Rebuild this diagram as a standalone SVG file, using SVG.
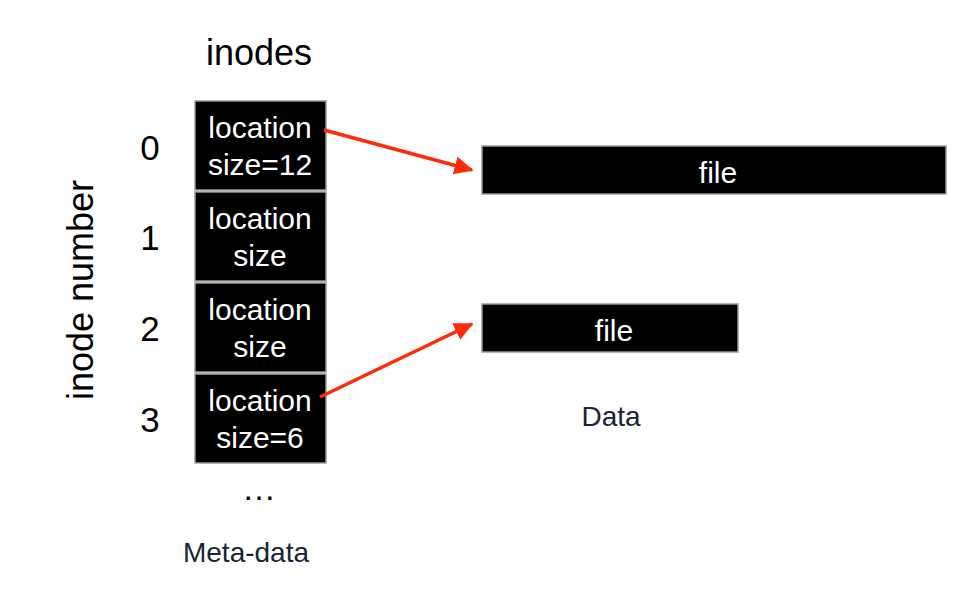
<svg xmlns="http://www.w3.org/2000/svg" width="969" height="605" viewBox="0 0 969 605">
<style>
text{font-family:"Liberation Sans",Arial,sans-serif}
.box{fill:#000;stroke:#9a9a9a;stroke-width:1.5}
.w{fill:#fff;font-size:30px;text-anchor:middle}
.k{fill:#000;text-anchor:middle}
.c{fill:#1a2434}
.n{font-size:35px}
.arr{stroke:#ff2a0a;stroke-width:3.5;fill:none;marker-end:url(#ah)}
</style>
<defs>
<marker id="ah" markerWidth="6" markerHeight="6" refX="5" refY="3" orient="auto" markerUnits="strokeWidth"><path d="M0,0.4 L5.5,3 L0,5.6 Z" fill="#ff2a0a"/></marker>
</defs>
<rect width="969" height="605" fill="#fff"/>
<text class="k" x="259" y="65" font-size="36">inodes</text>
<text class="k" x="93" y="290" font-size="36" transform="rotate(-90 93 290)">inode number</text>
<g id="labels">
<text class="k n" x="150" y="160">0</text>
<text class="k n" x="150" y="250">1</text>
<text class="k n" x="150" y="341">2</text>
<text class="k n" x="150" y="432">3</text>
</g>
<g id="inode0"><rect class="box" x="195" y="101" width="131" height="89"/><text class="w" x="260" y="138">location</text><text class="w" x="260" y="175">size=12</text></g>
<g id="inode1"><rect class="box" x="195" y="192" width="131" height="89"/><text class="w" x="260" y="229">location</text><text class="w" x="260" y="266">size</text></g>
<g id="inode2"><rect class="box" x="195" y="283" width="131" height="89"/><text class="w" x="260" y="320">location</text><text class="w" x="260" y="357">size</text></g>
<g id="inode3"><rect class="box" x="195" y="374" width="131" height="89"/><text class="w" x="260" y="411">location</text><text class="w" x="260" y="448">size=6</text></g>
<text class="k" x="259" y="500" font-size="34">…</text>
<text class="k c" x="246" y="562" font-size="28">Meta-data</text>
<g id="file1"><rect class="box" x="482" y="146" width="464" height="48"/><text class="w" x="718" y="183">file</text></g>
<g id="file2"><rect class="box" x="482" y="304" width="256" height="48"/><text class="w" x="614" y="341">file</text></g>
<text class="k c" x="611" y="426" font-size="28">Data</text>
<g id="connectors">
<line class="arr" x1="324" y1="130" x2="472" y2="170"/>
<line class="arr" x1="320" y1="397" x2="472" y2="324"/>
</g>
</svg>
